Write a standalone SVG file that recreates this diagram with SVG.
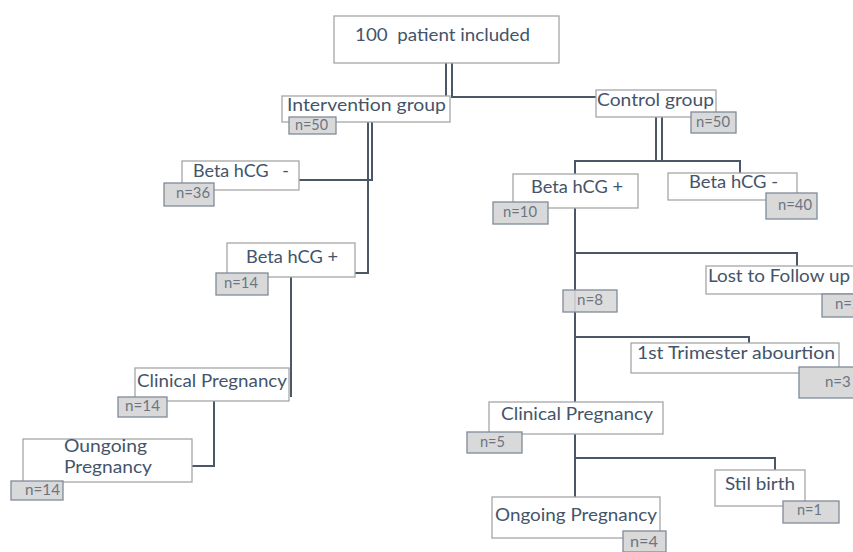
<svg xmlns="http://www.w3.org/2000/svg" width="853" height="552" viewBox="0 0 853 552">
<style>
.box{fill:#fff;stroke:#a6a6a6;stroke-width:1.3}
.nb{fill:#d9d9d9;stroke:#7f8a99;stroke-width:1.3}
.t{font-family:Lato,"Liberation Sans",Arial,sans-serif;fill:#44546a;font-size:18px}
.n{font-family:Lato,"Liberation Sans",Arial,sans-serif;fill:#6b7584;font-size:15px}
.c{fill:none;stroke:#4b5667;stroke-width:2}
</style>
<rect width="853" height="552" fill="#fff"/>
<g id="connectors">
<path class="c" d="M446 63V96"/>
<path class="c" d="M452 63V97H596"/>
<path class="c" d="M368 122V273H355"/>
<path class="c" d="M372 122V180H299"/>
<path class="c" d="M656 117V161"/>
<path class="c" d="M662 117V161"/>
<path class="c" d="M575 174V161H740V173"/>
<path class="c" d="M575 208V497"/>
<path class="c" d="M575 253H797V266"/>
<path class="c" d="M575 337H749V343"/>
<path class="c" d="M575 458H775V470"/>
<path class="c" d="M291 277V397"/>
<path class="c" d="M214 401V466H192"/>
</g>
<g id="n-total"><rect class="box" x="334" y="16" width="225" height="47"/><text class="t" x="355" y="41" font-size="19" textLength="175" lengthAdjust="spacingAndGlyphs" xml:space="preserve">100  patient included</text></g>
<g id="n-intervention"><rect class="box" x="282" y="96" width="168" height="26"/><text class="t" x="287" y="111" font-size="17.5" textLength="159" lengthAdjust="spacingAndGlyphs">Intervention group</text>
<rect class="nb" x="289" y="117" width="47" height="17"/><text class="n" x="295" y="130" font-size="14" textLength="33" lengthAdjust="spacingAndGlyphs">n=50</text></g>
<g id="n-control"><rect class="box" x="596" y="90" width="120" height="27"/><text class="t" x="597" y="106" textLength="117" lengthAdjust="spacingAndGlyphs">Control group</text>
<rect class="nb" x="691" y="112" width="45" height="21"/><text class="n" x="696" y="127" textLength="34" lengthAdjust="spacingAndGlyphs">n=50</text></g>
<g id="n-int-neg"><rect class="box" x="182" y="161" width="117" height="29"/><text class="t" x="193" y="177" textLength="96" lengthAdjust="spacingAndGlyphs" xml:space="preserve">Beta hCG   -</text>
<rect class="nb" x="164" y="183" width="50" height="23"/><text class="n" x="176" y="198" textLength="34" lengthAdjust="spacingAndGlyphs">n=36</text></g>
<g id="n-int-pos"><rect class="box" x="227" y="243" width="128" height="34"/><text class="t" x="246" y="263" textLength="92" lengthAdjust="spacingAndGlyphs">Beta hCG +</text>
<rect class="nb" x="216" y="273" width="52" height="22"/><text class="n" x="224" y="288" textLength="34" lengthAdjust="spacingAndGlyphs">n=14</text></g>
<g id="n-int-clin"><rect class="box" x="135" y="368" width="154" height="33"/><text class="t" x="137" y="387" textLength="150" lengthAdjust="spacingAndGlyphs">Clinical Pregnancy</text>
<rect class="nb" x="118" y="397" width="49" height="20"/><text class="n" x="125" y="411" textLength="35" lengthAdjust="spacingAndGlyphs">n=14</text></g>
<g id="n-int-ongoing"><rect class="box" x="23" y="439" width="169" height="43"/><text class="t" x="64" y="452" font-size="17" textLength="83" lengthAdjust="spacingAndGlyphs">Oungoing</text><text class="t" x="64" y="473" font-size="17" textLength="88" lengthAdjust="spacingAndGlyphs">Pregnancy</text>
<rect class="nb" x="11" y="481" width="52" height="19"/><text class="n" x="25" y="495" textLength="35" lengthAdjust="spacingAndGlyphs">n=14</text></g>
<g id="n-ctl-pos"><rect class="box" x="513" y="174" width="125" height="34"/><text class="t" x="531" y="193" textLength="92" lengthAdjust="spacingAndGlyphs">Beta hCG +</text>
<rect class="nb" x="493" y="202" width="55" height="22"/><text class="n" x="503" y="217" textLength="34" lengthAdjust="spacingAndGlyphs">n=10</text></g>
<g id="n-ctl-neg"><rect class="box" x="668" y="173" width="129" height="27"/><text class="t" x="689" y="188" textLength="89" lengthAdjust="spacingAndGlyphs">Beta hCG -</text>
<rect class="nb" x="766" y="193" width="51" height="26"/><text class="n" x="778" y="210" textLength="34" lengthAdjust="spacingAndGlyphs">n=40</text></g>
<g id="n-ctl-8"><rect class="nb" x="563" y="290" width="54" height="22" fill-opacity="0.9"/><text class="n" x="577" y="305" textLength="26" lengthAdjust="spacingAndGlyphs">n=8</text></g>
<g id="n-lost"><rect class="box" x="706" y="266" width="152" height="28"/><text class="t" x="708" y="282" textLength="142" lengthAdjust="spacingAndGlyphs">Lost to Follow up</text>
<rect class="nb" x="822" y="294" width="40" height="23"/><text class="n" x="835" y="309">n=2</text></g>
<g id="n-abort"><rect class="box" x="631" y="343" width="208" height="30"/><text class="t" x="637" y="359" font-size="19" textLength="198" lengthAdjust="spacingAndGlyphs">1st Trimester abourtion</text>
<rect class="nb" x="799" y="367" width="62" height="31"/><text class="n" x="825" y="387">n=3</text></g>
<g id="n-ctl-clin"><rect class="box" x="489" y="402" width="174" height="32"/><text class="t" x="501" y="420" textLength="152" lengthAdjust="spacingAndGlyphs">Clinical Pregnancy</text>
<rect class="nb" x="467" y="432" width="55" height="21"/><text class="n" x="480" y="447" textLength="25" lengthAdjust="spacingAndGlyphs">n=5</text></g>
<g id="n-still"><rect class="box" x="715" y="470" width="90" height="36"/><text class="t" x="725" y="490" textLength="70" lengthAdjust="spacingAndGlyphs">Stil birth</text>
<rect class="nb" x="783" y="501" width="56" height="22"/><text class="n" x="797" y="515" textLength="25" lengthAdjust="spacingAndGlyphs">n=1</text></g>
<g id="n-ctl-ongoing"><rect class="box" x="492" y="497" width="168" height="41"/><text class="t" x="495" y="521" textLength="162" lengthAdjust="spacingAndGlyphs">Ongoing Pregnancy</text>
<rect class="nb" x="623" y="531" width="43" height="21"/><text class="n" x="630" y="547" textLength="28" lengthAdjust="spacingAndGlyphs">n=4</text></g>
</svg>
